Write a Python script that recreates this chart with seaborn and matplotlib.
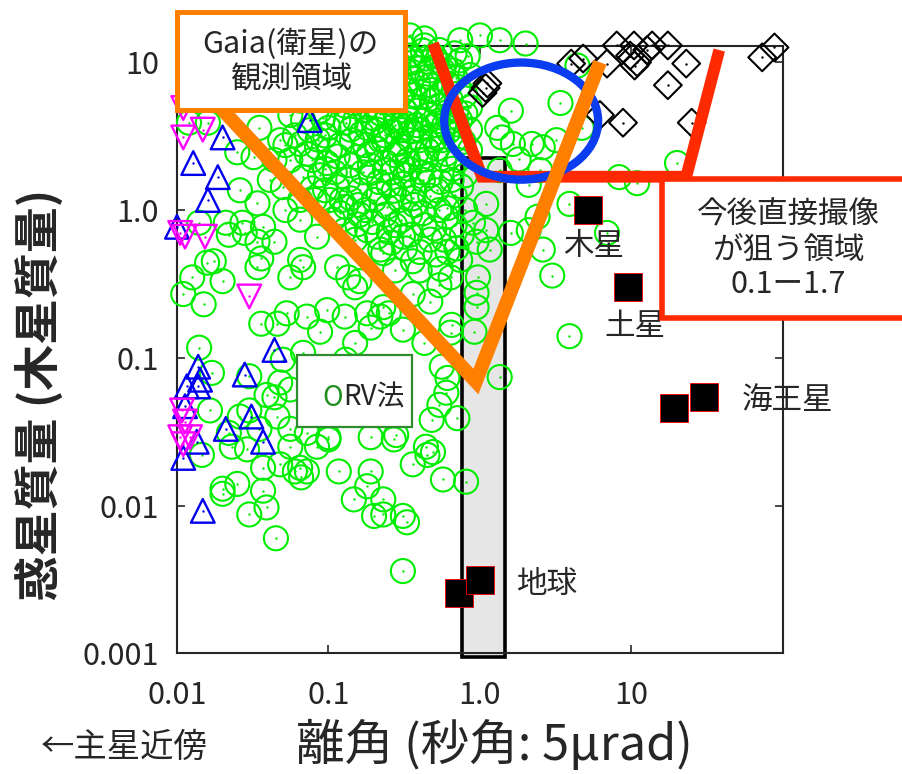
import numpy as np
import pandas as pd
import matplotlib
matplotlib.use("Agg")
import matplotlib.pyplot as plt
from matplotlib.patches import Rectangle, Ellipse
from matplotlib.ticker import NullLocator
import seaborn as sns

sns.set_style("ticks")
plt.rcParams['font.family'] = ['Noto Sans CJK JP', 'DejaVu Sans']

# --- data: separation [arcsec], mass [Jupiter mass] ---
rv_points = [
    # lower left part
    (0.014, 0.117), (0.017, 0.079), (0.030, 0.075), (0.020, 0.33), (0.015, 0.23), (0.011, 0.27),
    (0.0126, 0.35), (0.0158, 0.44), (0.0175, 0.45), (0.034, 0.41), (0.036, 0.47), (0.044, 0.61),
    (0.034, 0.61), (0.028, 0.70), (0.022, 0.68), (0.065, 0.46), (0.056, 0.35), (0.068, 0.41),
    (0.114, 0.41), (0.135, 0.35), (0.16, 0.33), (0.15, 0.30), (0.098, 0.21), (0.088, 0.15),
    (0.072, 0.19), (0.053, 0.20), (0.046, 0.17), (0.036, 0.17), (0.128, 0.19), (0.19, 0.16),
    (0.18, 0.20), (0.15, 0.126), (0.13, 0.097), (0.068, 0.108), (0.050, 0.097), (0.048, 0.068),
    (0.039, 0.056), (0.044, 0.054), (0.056, 0.061), (0.046, 0.040), (0.035, 0.033), (0.026, 0.040),
    (0.030, 0.044), (0.0165, 0.044), (0.056, 0.033), (0.072, 0.031), (0.19, 0.029), (0.022, 0.031),
    (0.10, 0.029),
    (0.0146, 0.022), (0.020, 0.012), (0.025, 0.014), (0.020, 0.013), (0.037, 0.0126), (0.030, 0.0087),
    (0.039, 0.0097), (0.045, 0.006), (0.048, 0.019), (0.037, 0.018), (0.060, 0.017), (0.065, 0.018),
    (0.072, 0.017), (0.066, 0.0155), (0.117, 0.017), (0.147, 0.011), (0.19, 0.017), (0.18, 0.0135),
    (0.20, 0.0085), (0.023, 0.025), (0.029, 0.024), (0.056, 0.025), (0.084, 0.025), (0.10, 0.028),
    (0.27, 0.028), (0.36, 0.019), (0.45, 0.022), (0.49, 0.023), (0.57, 0.015), (0.81, 0.0145),
    (0.23, 0.011), (0.23, 0.0087), (0.31, 0.0085), (0.33, 0.0077), (0.31, 0.0036),
    # middle
    (0.23, 0.51), (0.40, 0.52), (0.61, 0.52), (0.64, 0.35), (0.47, 0.24), (0.36, 0.27),
    (0.23, 0.22), (0.22, 0.19), (0.25, 0.20), (0.31, 0.155), (0.43, 0.126), (0.64, 0.148),
    (0.65, 0.167), (0.56, 0.087), (0.61, 0.073), (0.71, 0.039), (0.28, 0.030), (0.44, 0.025),
    (0.60, 0.058), (0.21, 0.66), (0.31, 0.66), (0.95, 0.61), (1.16, 0.54), (0.97, 0.35),
    (0.95, 0.275), (0.95, 0.22), (0.92, 0.15), (1.35, 0.074), (2.6, 0.54), (3.0, 0.36),
    (3.9, 0.14), (1.6, 0.70), (0.54, 0.048), (0.48, 0.038),
    # upper right
    (0.43, 14.5), (2.0, 13.4), (3.4, 5.3), (1.6, 4.7), (0.86, 4.96), (1.4, 3.1), (1.65, 2.8),
    (2.2, 2.8), (2.6, 2.66), (3.2, 2.97), (3.9, 1.1), (2.4, 0.9), (2.1, 0.73), (1.1, 1.1),
    (0.9, 0.82), (1.1, 0.73), (1.3, 3.6), (0.86, 3.5), (0.70, 4.7), (0.61, 7.2), (0.66, 8.8),
    (0.52, 10.3), (4.4, 9.5), (4.7, 3.6), (8.3, 1.67), (10.9, 1.52), (20, 2.08), (6.9, 0.70),
    (2.5, 1.86), (1.8, 2.2), (1.35, 1.86), (2.1, 1.48),
    # upper left
    (0.012, 3.9), (0.016, 3.9), (0.025, 2.46), (0.035, 3.6), (0.032, 2.28), (0.048, 2.97),
    (0.050, 1.43), (0.034, 1.11), (0.037, 0.77), (0.027, 0.82), (0.021, 0.82), (0.014, 0.82),
    (0.065, 2.8), (0.068, 4.06), (0.10, 3.6), (0.14, 3.5), (0.084, 2.66), (0.098, 2.08),
    (0.068, 1.67), (0.114, 1.43), (0.13, 1.05), (0.19, 1.78), (0.21, 3.5), (0.154, 2.28),
    (0.107, 0.86), (0.084, 0.66), (0.18, 0.73), (0.052, 1.0), (0.065, 1.17), (0.041, 1.6),
    (0.026, 1.36),
    # dense cloud of giant planets
    (0.25, 10.3), (0.295, 8.2), (0.345, 11.1), (0.40, 9.1), (0.47, 7.0), (0.37, 6.0), (0.32, 4.7),
    (0.275, 3.75), (0.236, 5.5), (0.20, 7.0), (0.174, 4.7), (0.22, 2.97), (0.275, 2.35),
    (0.345, 2.97), (0.43, 4.06), (0.54, 5.1), (0.50, 2.97), (0.40, 2.18), (0.32, 1.72),
    (0.25, 1.47), (0.20, 1.17), (0.161, 1.36), (0.139, 2.01), (0.119, 2.75), (0.15, 4.06),
    (0.174, 2.75), (0.128, 5.1), (0.102, 2.54), (0.088, 1.72), (0.081, 1.17), (0.128, 0.73),
    (0.161, 0.93), (0.236, 0.93), (0.295, 1.17), (0.37, 1.36), (0.47, 1.72), (0.58, 2.18),
    (0.68, 2.97), (0.74, 4.06), (0.63, 7.0), (0.74, 10.3), (0.54, 12.1), (0.43, 13.0),
    (0.86, 8.2), (0.80, 6.0), (0.86, 2.54), (0.80, 1.72), (0.68, 1.26), (0.54, 1.0), (0.43, 0.79),
    (0.345, 0.68), (0.275, 0.79), (0.345, 0.93), (0.47, 0.63), (0.68, 0.79), (0.088, 4.7),
    (0.11, 6.5), (0.161, 8.8), (0.20, 10.3), (0.139, 11.1), (0.102, 8.8), (0.081, 7.0),
    (0.065, 5.5), (0.056, 4.4), (0.075, 3.47), (0.056, 2.18), (0.044, 2.18), (0.065, 0.86),
    (0.102, 1.17), (0.15, 0.63), (0.22, 0.54), (0.40, 0.39), (0.275, 0.39), (0.54, 0.31),
    (0.74, 0.46), (0.80, 1.0), (0.58, 0.63), (0.37, 1.08), (0.188, 2.01), (0.236, 1.86),
    (0.295, 2.54), (0.40, 2.97), (0.58, 3.75), (0.47, 8.8), (0.32, 6.5), (0.25, 14.1),
    (0.74, 14.1), (1.0, 15.2), (1.35, 14.1), (0.345, 15.2),
    (0.116, 4.06), (0.195, 4.2), (0.245, 4.6), (0.305, 3.47), (0.385, 4.7), (0.49, 5.5),
    (0.61, 4.6), (0.168, 6.0), (0.21, 8.2), (0.275, 6.7), (0.355, 7.8), (0.44, 10.6),
    (0.57, 8.8), (0.69, 7.8), (0.135, 1.6), (0.168, 1.8), (0.215, 1.55), (0.265, 1.8),
    (0.335, 2.18), (0.42, 1.6), (0.52, 1.36), (0.65, 1.6), (0.122, 1.17), (0.157, 1.08),
    (0.195, 0.83), (0.25, 0.71), (0.32, 0.55), (0.51, 0.50), (0.095, 1.36), (0.078, 2.18),
    (0.095, 3.2), (0.143, 2.97), (0.18, 3.6), (0.236, 3.2), (0.45, 2.54), (0.56, 2.97),
    (0.72, 2.18), (0.61, 1.03), (0.76, 0.68), (0.385, 3.75), (0.275, 5.1), (0.215, 5.5),
    (0.143, 7.3), (0.119, 9.5), (0.09, 11.1), (0.07, 8.2), (0.06, 3.2), (0.052, 2.75),
    (0.345, 4.06), (0.50, 3.75),
    (0.105, 5.8), (0.125, 7.9), (0.13, 3.9), (0.145, 5.3), (0.155, 9.7), (0.165, 3.3),
    (0.17, 12.0), (0.18, 5.0), (0.185, 2.4), (0.19, 6.6), (0.20, 3.9), (0.205, 12.5),
    (0.21, 2.6), (0.215, 1.3), (0.22, 4.5), (0.225, 9.2), (0.23, 3.0), (0.235, 7.5),
    (0.24, 2.1), (0.245, 1.05), (0.25, 5.8), (0.26, 3.4), (0.265, 11.5), (0.27, 1.35),
    (0.28, 4.2), (0.285, 2.8), (0.29, 9.8), (0.30, 6.0), (0.305, 2.0), (0.31, 1.5),
    (0.315, 3.9), (0.32, 12.5), (0.33, 8.6), (0.335, 5.3), (0.34, 1.9), (0.35, 3.4),
    (0.36, 1.2), (0.365, 10.0), (0.37, 5.0), (0.38, 2.4), (0.39, 7.2), (0.40, 3.5),
    (0.41, 1.8), (0.42, 12.0), (0.43, 5.8), (0.44, 2.2), (0.45, 8.0), (0.46, 4.4),
    (0.47, 1.25), (0.48, 3.2), (0.49, 6.5), (0.50, 11.0), (0.52, 2.6), (0.53, 4.0),
    (0.55, 1.55), (0.56, 6.2), (0.58, 9.5), (0.60, 2.4), (0.62, 3.4), (0.64, 5.6),
    (0.66, 1.9), (0.68, 11.5), (0.70, 3.8), (0.72, 6.8), (0.75, 1.45), (0.78, 2.9),
    (0.80, 4.5), (0.83, 11.0), (0.085, 3.0), (0.092, 4.2), (0.095, 1.9), (0.078, 1.4),
    (0.072, 2.4), (0.11, 1.8), (0.115, 2.3), (0.12, 0.95), (0.14, 1.2), (0.155, 0.8),
    (0.175, 1.0), (0.26, 0.60), (0.30, 0.85), (0.36, 0.45), (0.42, 0.95), (0.50, 0.75),
    (0.60, 0.90), (0.70, 0.55), (0.55, 0.40),
]
rv_sep = [p[0] for p in rv_points]
rv_mass = [p[1] for p in rv_points]

# blue triangles
tri_sep = [0.020, 0.075, 0.0128, 0.0186, 0.016, 0.010, 0.044, 0.0138, 0.0142, 0.028,
           0.0116, 0.0138, 0.0113, 0.031, 0.021, 0.037, 0.0135, 0.0148, 0.011]
tri_mass = [3.1, 4.06, 2.08, 1.67, 1.17, 0.77, 0.113, 0.087, 0.071, 0.077,
            0.064, 0.064, 0.047, 0.040, 0.033, 0.027, 0.027, 0.0092, 0.021]

# magenta inverted triangles
inv_sep = [0.011, 0.011, 0.0148, 0.0105, 0.0113, 0.0153, 0.030, 0.0108, 0.0113, 0.0105,
           0.0122, 0.011]
inv_mass = [4.9, 3.1, 3.5, 0.70, 0.66, 0.66, 0.26, 0.044, 0.037, 0.029, 0.029, 0.026]

# black diamonds (direct imaging)
dia_sep = [1.04, 1.12, 1.09, 8.0, 10.4, 13.7, 17.4, 12.7, 4.8, 6.9, 10.9, 10.5, 23, 17.4,
           8.8, 6.2, 25, 88, 73, 9.8, 4.0]
dia_mass = [6.2, 7.2, 6.7, 13.0, 13.0, 13.0, 13.0, 12.1, 10.6, 9.8, 10.0, 9.5, 9.8, 7.0,
            3.9, 4.4, 3.9, 12.6, 10.8, 11.1, 9.8]

# solar system planets seen from 1 pc
planet_sep = [0.723, 1.0, 5.2, 9.54, 19.2, 30.1]
planet_mass = [0.00256, 0.00315, 1.0, 0.299, 0.046, 0.054]

# region outlines (data coords)
gaia_sep = [0.0122, 0.94, 6.2]
gaia_mass = [8.2, 0.069, 10.0]
img_sep = [0.49, 1.03, 23.0, 38.0]
img_mass = [13.4, 1.68, 1.68, 12.1]
band_sep = (0.757, 1.46)
band_mass = (0.00094, 2.25)

xticks = [0.01, 0.1, 1, 10]
xticklabels = ['0.01', '0.1', '1.0', '10']
yticks = [0.001, 0.01, 0.1, 1, 10]
yticklabels = ['0.001', '0.01', '0.1', '1.0', '10']

GREEN = '#00ee00'
BLUE = '#0000ee'
MAGENTA = '#ff00ff'
ORANGE = '#ff7f00'
RED = '#ff2a00'
ELL_BLUE = '#0a3cf0'

fig = plt.figure(figsize=(9.03, 7.74), dpi=100)
ax = fig.add_axes([0.196, 0.156, 0.671, 0.784])
ax.set_xscale('log')
ax.set_yscale('log')

# shaded band around 1 arcsec
ax.add_patch(Rectangle((band_sep[0], band_mass[0]), band_sep[1] - band_sep[0],
                       band_mass[1] - band_mass[0], facecolor='#e6e6e6',
                       edgecolor='black', lw=2.6, zorder=1.5, clip_on=False))

sns.scatterplot(x=rv_sep, y=rv_mass, ax=ax, marker='o', s=300, color=GREEN,
                facecolor='none', edgecolor=GREEN, linewidth=1.5, clip_on=False, zorder=3)
sns.scatterplot(x=rv_sep, y=rv_mass, ax=ax, marker='o', s=3, color=GREEN,
                linewidth=0, clip_on=False, zorder=3)
sns.scatterplot(x=tri_sep, y=tri_mass, ax=ax, marker='^', s=290, color=BLUE,
                facecolor='none', edgecolor=BLUE, linewidth=1.7, clip_on=False, zorder=4)
sns.scatterplot(x=tri_sep, y=tri_mass, ax=ax, marker='o', s=3, color=BLUE,
                linewidth=0, clip_on=False, zorder=4)
sns.scatterplot(x=inv_sep, y=inv_mass, ax=ax, marker='v', s=290, color=MAGENTA,
                facecolor='none', edgecolor=MAGENTA, linewidth=1.7, clip_on=False, zorder=4)
sns.scatterplot(x=inv_sep, y=inv_mass, ax=ax, marker='o', s=3, color=MAGENTA,
                linewidth=0, clip_on=False, zorder=4)
sns.scatterplot(x=dia_sep, y=dia_mass, ax=ax, marker='D', s=200, color='black',
                facecolor='none', edgecolor='black', linewidth=1.5, clip_on=False, zorder=4)
sns.scatterplot(x=dia_sep, y=dia_mass, ax=ax, marker='o', s=3, color='black',
                linewidth=0, clip_on=False, zorder=4)
sns.scatterplot(x=planet_sep, y=planet_mass, ax=ax, marker='s', s=400, color='black',
                edgecolor='red', linewidth=0.6, clip_on=False, zorder=9)

# region outlines
ax.plot(img_sep, img_mass, color=RED, lw=8.5, solid_joinstyle='miter',
        solid_capstyle='butt', clip_on=False, zorder=6)
ax.add_patch(Ellipse((0.568, 0.877), 0.254, 0.193, transform=ax.transAxes, fill=False,
                     edgecolor=ELL_BLUE, lw=6, zorder=7, clip_on=False))
ax.plot(gaia_sep, gaia_mass, color=ORANGE, lw=10, solid_joinstyle='miter',
        solid_capstyle='butt', clip_on=False, zorder=8)

ax.set_xlim(0.01, 100)
ax.set_ylim(0.001, 12.8)
ax.set_xticks(xticks)
ax.set_xticklabels(xticklabels)
ax.set_yticks(yticks)
ax.set_yticklabels(yticklabels)
ax.xaxis.set_minor_locator(NullLocator())
ax.yaxis.set_minor_locator(NullLocator())
ax.tick_params(axis='both', direction='in', top=True, right=True, length=6, width=1.2,
               labelsize=22)
ax.tick_params(axis='x', pad=19)
ax.tick_params(axis='y', pad=13)
for sp in ax.spines.values():
    sp.set_linewidth(1.5)
    sp.set_visible(True)
ax.set_xlabel('')
ax.set_ylabel('')

# axis titles
fig.text(0.548, 0.037, '離角 (秒角: 5μrad)', fontsize=35, ha='center', va='center')
fig.text(0.138, 0.034, '←主星近傍', fontsize=24, ha='center', va='center')
fig.text(0.044, 0.49, '惑星質量 (木星質量)', fontsize=33, fontweight='bold',
         rotation=90, ha='center', va='center')

# annotation boxes
fig.add_artist(Rectangle((0.196, 0.858), 0.2525, 0.126, transform=fig.transFigure,
                         facecolor='white', edgecolor=ORANGE, lw=3.6, zorder=10))
fig.text(0.322, 0.920, 'Gaia(衛星)の\n観測領域', fontsize=22, ha='center', va='center',
         linespacing=1.2, zorder=11)

fig.add_artist(Rectangle((0.733, 0.589), 0.3, 0.180, transform=fig.transFigure,
                         facecolor='white', edgecolor=RED, lw=4, zorder=10))
fig.text(0.873, 0.677, '今後直接撮像\nが狙う領域\n0.1ー1.7', fontsize=22, ha='center',
         va='center', linespacing=1.15, zorder=11)

fig.add_artist(Rectangle((0.329, 0.448), 0.127, 0.093, transform=fig.transFigure,
                         facecolor='white', edgecolor='#2e8b2e', lw=1.6, zorder=10))
fig.text(0.380, 0.486, 'O', color='#1f8f1f', fontsize=20, ha='right', va='center', zorder=11)
fig.text(0.380, 0.486, 'RV法', fontsize=20, ha='left', va='center', zorder=11)

# planet names
fig.text(0.658, 0.682, '木星', fontsize=22, ha='center', va='center')
fig.text(0.703, 0.578, '土星', fontsize=22, ha='center', va='center')
fig.text(0.872, 0.483, '海王星', fontsize=22, ha='center', va='center')
fig.text(0.606, 0.245, '地球', fontsize=22, ha='center', va='center')

fig.savefig('out.png', dpi=100)
